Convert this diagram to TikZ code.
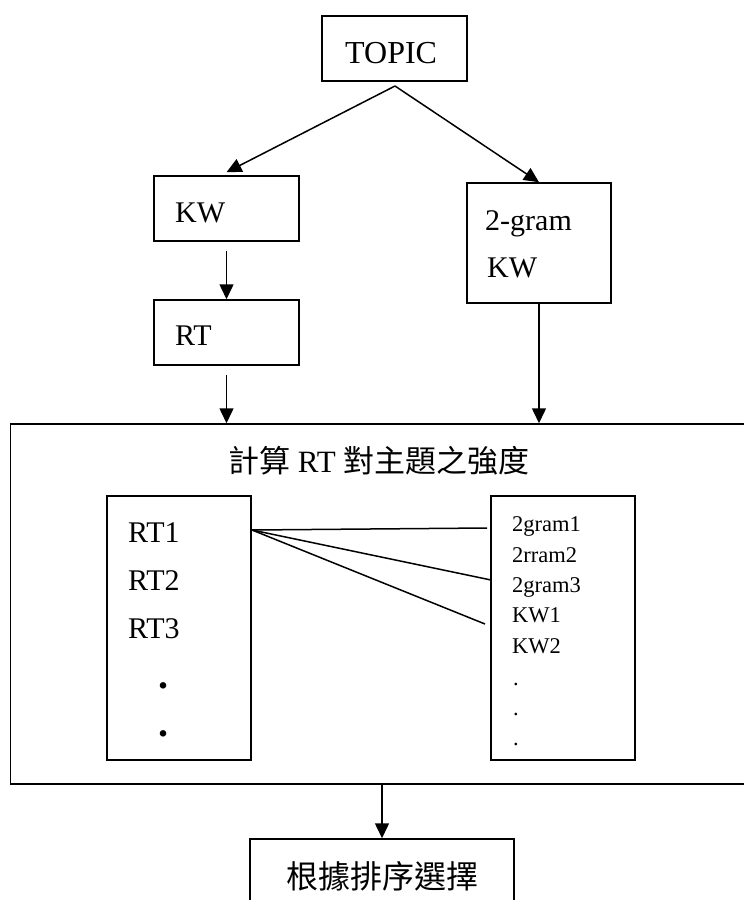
\documentclass[tikz,border=0pt]{standalone}
\usepackage{fontspec}
\setmainfont{Liberation Serif}
\newfontfamily\cjk{Noto Sans CJK TC}
\usetikzlibrary{arrows.meta}
\begin{document}
\begin{tikzpicture}[x=1pt,y=-1pt,
  box/.style={draw,line width=1.5pt,inner sep=0pt,minimum width=#1},
  lbl/.style={inner sep=0pt,anchor=base west,font=\fontsize{30}{36}\selectfont},
  sml/.style={inner sep=0pt,anchor=base west,font=\fontsize{22.5}{27}\selectfont},
  arr/.style={line width=1.5pt,-{Triangle[length=15pt,width=14pt]}},
  con/.style={line width=1.5pt}]
\useasboundingbox (0,0) rectangle (744,900);
\clip (0,0) rectangle (744,900);
% boxes
\node[box=145pt,minimum height=65pt] (topic) at (394.5,48.5) {};
\node[box=145pt,minimum height=65pt] (kw) at (226.5,208.5) {};
\node[box=144pt,minimum height=120pt] (gram) at (539,243) {};
\node[box=145pt,minimum height=65pt] (rt) at (226.5,332.5) {};
\node[box=749.5pt,minimum height=360pt] (big) at (385.25,604) {};
\node[box=144pt,minimum height=264pt] (lin) at (179,628) {};
\node[box=144pt,minimum height=264pt] (rin) at (563,628) {};
\node[box=264pt,minimum height=91pt] (bottom) at (382,884.5) {};
% texts
\node[lbl,font=\fontsize{32}{38}\selectfont] (ttopic) at (345,63) {TOPIC};
\node[lbl] (tkw) at (175,222) {KW};
\node[lbl] (tgram) at (485,230) {2-gram};
\node[lbl] (tgkw) at (487,277) {KW};
\node[lbl] (trt) at (175,345) {RT};
\node[lbl,font=\fontsize{31}{36}\selectfont] (title) at (228,472) {{\cjk 計算} RT {\cjk 對主題之強度}};
\node[lbl] (rt1) at (128,542) {RT1};
\node[lbl] (rt2) at (128,590) {RT2};
\node[lbl] (rt3) at (128,638) {RT3};
\node[lbl,anchor=base,font=\fontsize{40}{46}\selectfont\bfseries] (ld1) at (163,688) {.};
\node[lbl,anchor=base,font=\fontsize{40}{46}\selectfont\bfseries] (ld2) at (163,736) {.};
\node[sml] (g1) at (512,531) {2gram1};
\node[sml] (g2) at (512,562) {2rram2};
\node[sml] (g3) at (512,592) {2gram3};
\node[sml] (k1) at (512,622) {KW1};
\node[sml] (k2) at (512,653) {KW2};
\node[sml] (rd1) at (513,685) {.};
\node[sml] (rd2) at (513,715) {.};
\node[sml] (rd3) at (513,745) {.};
\node[lbl,font=\fontsize{32}{38}\selectfont\cjk] (tbottom) at (286,888) {根據排序選擇};
% connectors
\coordinate (apex) at (395,86);
\draw[arr] (apex) -- ([yshift=3pt]kw.north);
\draw[arr] (apex) -- (gram.north);
\draw[arr] ([yshift=-9pt]kw.south) -- (rt.north);
\draw[arr] ([yshift=-9pt]rt.south) -- (big.north -| rt.south);
\draw[arr] (gram.south) -- (big.north -| gram.south);
\draw[arr] (big.south -| bottom.north) -- (bottom.north);
\coordinate (src) at (252,530);
\coordinate (e1) at (487,528);
\coordinate (e2) at (491,580);
\coordinate (e3) at (485,624);
\draw[con] (src) -- (e1);
\draw[con] (src) -- (e2);
\draw[con] (src) -- (e3);
\end{tikzpicture}
\end{document}
